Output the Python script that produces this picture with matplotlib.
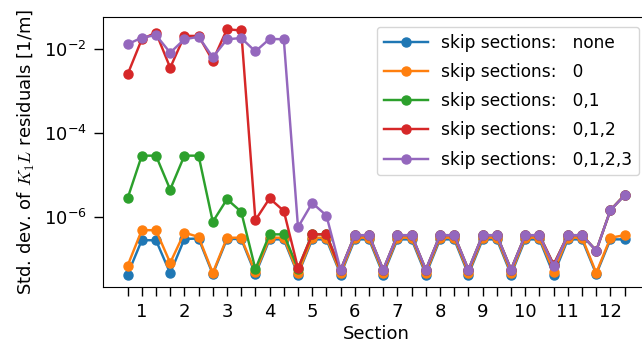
import numpy as np
import matplotlib
matplotlib.use("Agg")
import matplotlib.pyplot as plt
from matplotlib.ticker import FixedLocator, NullLocator

plt.rcParams['mathtext.fontset'] = 'cm'
plt.rcParams['font.size'] = 13

# log10 of the std. dev. values, 3 points per section, 12 sections
n_sections = 12
section_labels = [str(s) for s in range(1, n_sections + 1)]

log_none = [-7.38, -6.56, -6.56, -7.35, -6.53, -6.52, -7.37, -6.53, -6.53,
            -7.37, -6.54, -6.54, -7.38, -6.54, -6.54, -7.38, -6.54, -6.54,
            -7.38, -6.54, -6.54, -7.38, -6.54, -6.54, -7.38, -6.54, -6.54,
            -7.38, -6.54, -6.54, -7.38, -6.54, -6.54, -7.37, -6.54, -6.54]
log_0 = [-7.17, -6.32, -6.32, -7.10, -6.38, -6.48, -7.34, -6.50, -6.50,
         -7.33, -6.50, -6.50, -7.35, -6.50, -6.50, -7.35, -6.50, -6.50,
         -7.34, -6.50, -6.50, -7.34, -6.50, -6.50, -7.34, -6.50, -6.50,
         -7.34, -6.50, -6.50, -7.31, -6.50, -6.50, -7.34, -6.50, -6.44]
log_01 = [-5.56, -4.54, -4.54, -5.35, -4.54, -4.54, -6.12, -5.58, -5.88,
          -7.25, -6.42, -6.42, -7.24, -6.42, -6.42, -7.27, -6.44, -6.44,
          -7.27, -6.44, -6.44, -7.27, -6.44, -6.44, -7.27, -6.44, -6.44,
          -7.26, -6.44, -6.44, -7.15, -6.44, -6.44, -6.81, -5.84, -5.48]
log_012 = [-2.60, -1.76, -1.60, -2.44, -1.68, -1.68, -2.27, -1.52, -1.55,
           -6.08, -5.56, -5.86, -7.23, -6.42, -6.42, -7.27, -6.44, -6.44,
           -7.27, -6.44, -6.44, -7.27, -6.44, -6.44, -7.27, -6.44, -6.44,
           -7.26, -6.44, -6.44, -7.14, -6.44, -6.44, -6.81, -5.84, -5.48]
log_0123 = [-1.88, -1.72, -1.66, -2.08, -1.76, -1.70, -2.19, -1.76, -1.73,
            -2.05, -1.75, -1.76, -6.25, -5.67, -5.97, -7.27, -6.44, -6.44,
            -7.26, -6.44, -6.44, -7.26, -6.44, -6.44, -7.26, -6.44, -6.44,
            -7.26, -6.44, -6.44, -7.18, -6.44, -6.44, -6.81, -5.84, -5.49]

series = [log_none, log_0, log_01, log_012, log_0123]
names = ["none", "0", "0,1", "0,1,2", "0,1,2,3"]

x = np.arange(3 * n_sections)

fig = plt.figure(figsize=(6.42, 3.58), dpi=100)
ax = fig.add_axes([0.16, 0.1992, 0.8517, 0.7542])

for vals, name in zip(series, names):
    ax.plot(x, 10.0 ** np.array(vals), marker='o', lw=1.75, ms=6.5,
            label="skip sections:   " + name)

ax.set_yscale('log')
ax.set_ylim(10 ** -7.67, 10 ** -1.22)
ax.set_xlim(-1.75, 36.75)
ax.yaxis.set_major_locator(FixedLocator([1e-2, 1e-4, 1e-6]))
ax.yaxis.set_minor_locator(NullLocator())

ax.set_xticks(x)
ax.set_xticklabels([section_labels[i // 3] if i % 3 == 1 else "" for i in x])
ax.tick_params(length=6.5, width=1.0, pad=5)

ax.set_xlabel("Section", labelpad=3)
ax.set_ylabel(r"Std. dev. of $K_1L$ residuals [1/m]", labelpad=5)

ax.legend(loc='upper right', fontsize=12.25, labelspacing=0.66,
          handlelength=2.6, handletextpad=0.8, borderaxespad=0.6)

fig.savefig("out.png", dpi=100)
